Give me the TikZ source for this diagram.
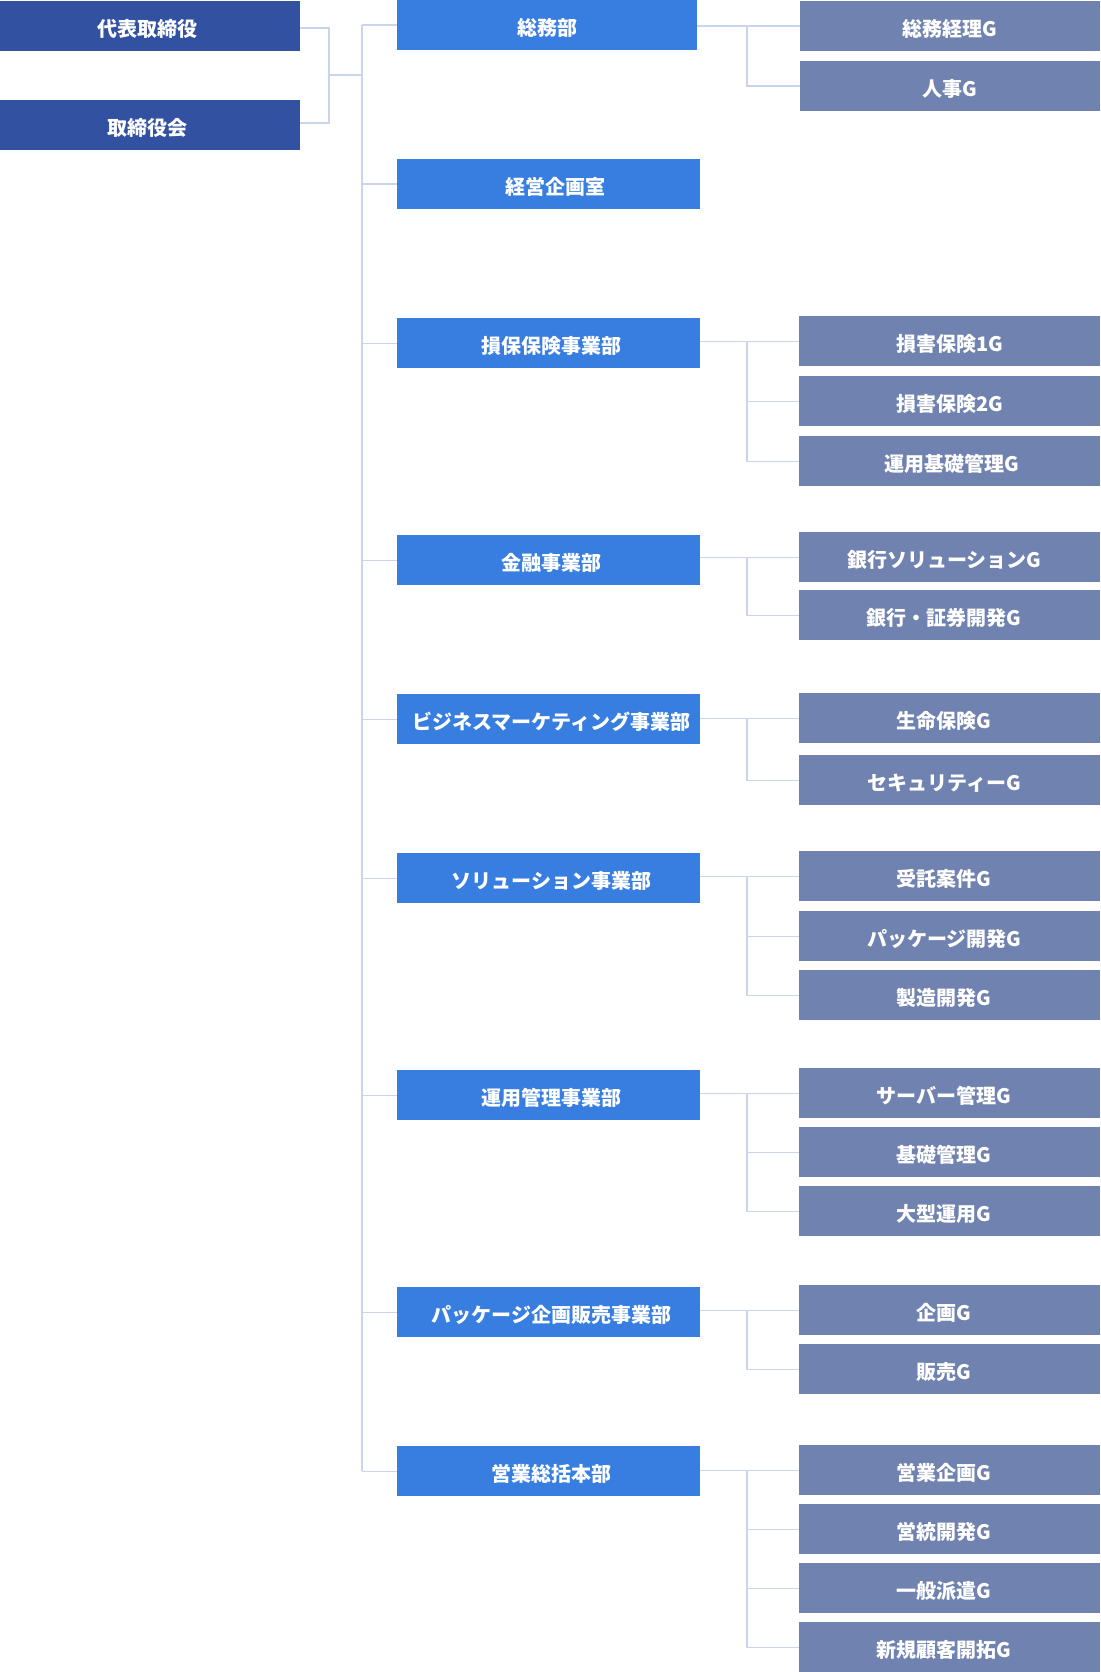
\documentclass[tikz,border=0pt]{standalone}
\usepackage{fontspec}
\setmainfont{Noto Sans CJK JP}
\definecolor{topc}{HTML}{3252A1}
\definecolor{deptc}{HTML}{377EE0}
\definecolor{grpc}{HTML}{7082AF}
\definecolor{linec}{HTML}{C9D5EC}
\tikzset{
  box/.style={rectangle, inner sep=0pt, anchor=north west, minimum height=50pt,
    text height=21.8pt, text depth=2pt,
    text=white, font=\bfseries\fontsize{20pt}{22pt}\selectfont},
  topbox/.style={box, fill=topc, minimum width=300pt, execute at end node={\hspace*{6pt}}},
  deptbox/.style={box, fill=deptc, minimum width=303pt, execute at begin node={\hspace*{5pt}}},
  grpbox/.style={box, fill=grpc, minimum width=301pt},
  grpboxl/.style={grpbox, execute at end node={\hspace*{11pt}}},
  conn/.style={draw=linec, line width=1.4pt}
}
\begin{document}
\begin{tikzpicture}[x=1pt, y=-1pt]
\useasboundingbox (0,0) rectangle (1100,1672);
% top level
\node[topbox] (ceo) at (0,1) {代表取締役};
\node[topbox] (board) at (0,100) {取締役会};
% departments
\node[box, fill=deptc, minimum width=300pt] (d1) at (397,0) {総務部};
\node[box, fill=deptc, minimum width=303pt, execute at begin node={\hspace*{13pt}}] (d2) at (397,159) {経営企画室};
\node[deptbox] (d3) at (397,318) {損保保険事業部};
\node[deptbox] (d4) at (397,535) {金融事業部};
\node[deptbox] (d5) at (397,694) {ビジネスマーケティング事業部};
\node[deptbox] (d6) at (397,853) {ソリューション事業部};
\node[deptbox] (d7) at (397,1070) {運用管理事業部};
\node[deptbox] (d8) at (397,1287) {パッケージ企画販売事業部};
\node[deptbox] (d9) at (397,1446) {営業総括本部};
% groups
\node[grpbox, minimum width=300pt] (g1a) at (800,1) {総務経理G};
\node[grpbox, minimum width=300pt] (g1b) at (800,61) {人事G};
\node[grpbox] (g3a) at (799,316) {損害保険1G};
\node[grpbox] (g3b) at (799,376) {損害保険2G};
\node[grpbox, execute at begin node={\hspace*{5pt}}] (g3c) at (799,436) {運用基礎管理G};
\node[grpboxl] (g4a) at (799,532) {銀行ソリューションG};
\node[grpboxl] (g4b) at (799,590) {銀行・証券開発G};
\node[grpboxl] (g5a) at (799,693) {生命保険G};
\node[grpboxl] (g5b) at (799,755) {セキュリティーG};
\node[grpboxl] (g6a) at (799,851) {受託案件G};
\node[grpboxl] (g6b) at (799,911) {パッケージ開発G};
\node[grpboxl] (g6c) at (799,970) {製造開発G};
\node[grpboxl] (g7a) at (799,1068) {サーバー管理G};
\node[grpboxl] (g7b) at (799,1127) {基礎管理G};
\node[grpboxl] (g7c) at (799,1186) {大型運用G};
\node[grpboxl] (g8a) at (799,1285) {企画G};
\node[grpboxl] (g8b) at (799,1344) {販売G};
\node[grpboxl] (g9a) at (799,1445) {営業企画G};
\node[grpboxl] (g9b) at (799,1504) {営統開発G};
\node[grpboxl] (g9c) at (799,1563) {一般派遣G};
\node[grpboxl] (g9d) at (799,1622) {新規顧客開拓G};
% helper coordinates
\coordinate (lj) at (329,75);
\coordinate (sp) at (362,0);
\coordinate (vx) at (747,0);
% top-level connectors
\draw[conn] ([yshift=-2pt]ceo.east) -| (lj) |- ([yshift=2pt]board.east);
\draw[conn] (lj) -- (lj -| sp);
% spine
\draw[conn] (sp |- d1.west) -- (sp |- d9.west);
\foreach \d in {d1,d2,d3,d4,d5,d6,d7,d8,d9}
  \draw[conn] (sp |- \d.west) -- (\d.west);
% department to group connectors
\foreach \d/\g in {d1/g1a,d3/g3a,d4/g4a,d5/g5a,d6/g6a,d7/g7a,d8/g8a,d9/g9a}
  \draw[conn] (\d.east |- \g.west) -- (\g.west);
\foreach \a/\g in {g1a/g1b,g3a/g3b,g3a/g3c,g4a/g4b,g5a/g5b,g6a/g6b,g6a/g6c,g7a/g7b,g7a/g7c,g8a/g8b,g9a/g9b,g9a/g9c,g9a/g9d}
  \draw[conn] (vx |- \a.west) |- (\g.west);
\end{tikzpicture}
\end{document}
